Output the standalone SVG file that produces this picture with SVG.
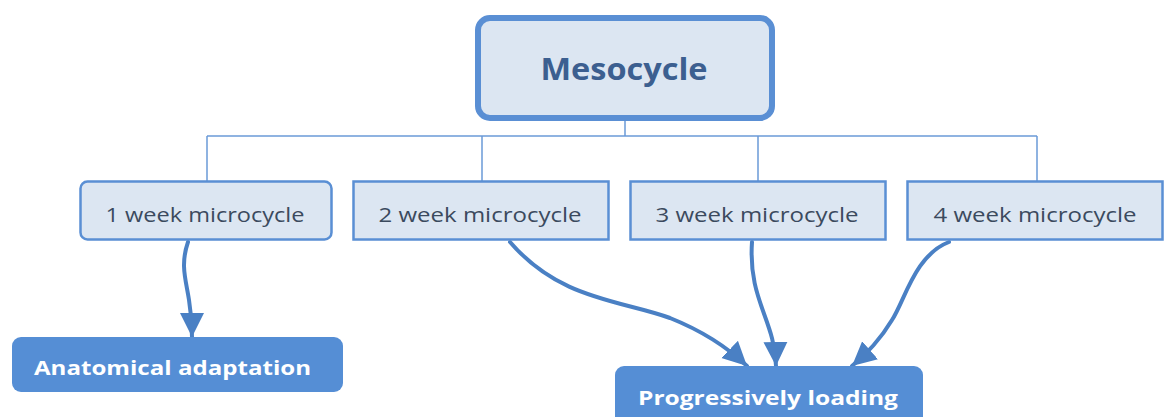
<svg xmlns="http://www.w3.org/2000/svg" width="1165" height="417" viewBox="0 0 1165 417">
<style>
.box{fill:#dce6f2;stroke:#5a8fd4;stroke-width:2.5}
.sub{font-family:"Open Sans","Liberation Sans",sans-serif;font-size:20px;fill:#3b4a5e;text-anchor:middle}
.leaf{fill:#558ed5}
.lt{font-family:"Open Sans","Liberation Sans",sans-serif;font-size:20px;font-weight:bold;fill:#ffffff}
.tree{fill:none;stroke:#6b9ad8;stroke-width:1.5}
.arr{fill:none;stroke:#4a80c4;stroke-width:4;stroke-linecap:round}
</style>
<defs>
<marker id="ah" markerUnits="userSpaceOnUse" markerWidth="26" markerHeight="26" viewBox="0 0 26 26" refX="24" refY="13" orient="auto">
<path d="M0,1 L24,13 L0,25 Z" fill="#4a80c4"/>
</marker>
</defs>
<g id="connectors">
<path class="tree" d="M625,121 V136 M207,136 H1037 M207,136 V181 M482,136 V181 M758,136 V181 M1037,136 V181"/>
<path class="arr" d="M188,242 C180,265 186,280 189,300 C191,312 192,322 192,337" marker-end="url(#ah)"/>
<path class="arr" d="M510,242 C560,300 620,300 670,318 C700,330 725,345 747,366" marker-end="url(#ah)"/>
<path class="arr" d="M752,242 C748,300 775,320 776,366" marker-end="url(#ah)"/>
<path class="arr" d="M949,242 C915,255 905,300 892,320 C880,340 868,352 852,366" marker-end="url(#ah)"/>
</g>
<g id="mesocycle">
<rect x="478" y="18" width="294" height="100" rx="12" fill="#dce6f2" stroke="#5a8fd4" stroke-width="6"/>
<text x="624" y="80" font-family="'Open Sans','Liberation Sans',sans-serif" font-size="31" font-weight="bold" fill="#3c5f90" text-anchor="middle" textLength="167" lengthAdjust="spacingAndGlyphs">Mesocycle</text>
</g>
<g id="week1">
<rect class="box" x="80.5" y="181.5" width="251" height="58" rx="7"/>
<text class="sub" x="205" y="222" textLength="199" lengthAdjust="spacingAndGlyphs">1 week microcycle</text>
</g>
<g id="week2">
<rect class="box" x="353.5" y="181.5" width="255" height="58"/>
<text class="sub" x="480" y="222" textLength="203" lengthAdjust="spacingAndGlyphs">2 week microcycle</text>
</g>
<g id="week3">
<rect class="box" x="630.5" y="181.5" width="255" height="58"/>
<text class="sub" x="757" y="222" textLength="203" lengthAdjust="spacingAndGlyphs">3 week microcycle</text>
</g>
<g id="week4">
<rect class="box" x="907.5" y="181.5" width="255" height="58"/>
<text class="sub" x="1035" y="222" textLength="203" lengthAdjust="spacingAndGlyphs">4 week microcycle</text>
</g>
<g id="anatomical">
<rect class="leaf" x="12" y="337" width="331" height="55" rx="9"/>
<text class="lt" x="34" y="375" textLength="277" lengthAdjust="spacingAndGlyphs">Anatomical adaptation</text>
</g>
<g id="progressive">
<rect class="leaf" x="615" y="366" width="308" height="60" rx="9"/>
<text class="lt" x="638" y="405" textLength="260" lengthAdjust="spacingAndGlyphs">Progressively loading</text>
</g>
</svg>
